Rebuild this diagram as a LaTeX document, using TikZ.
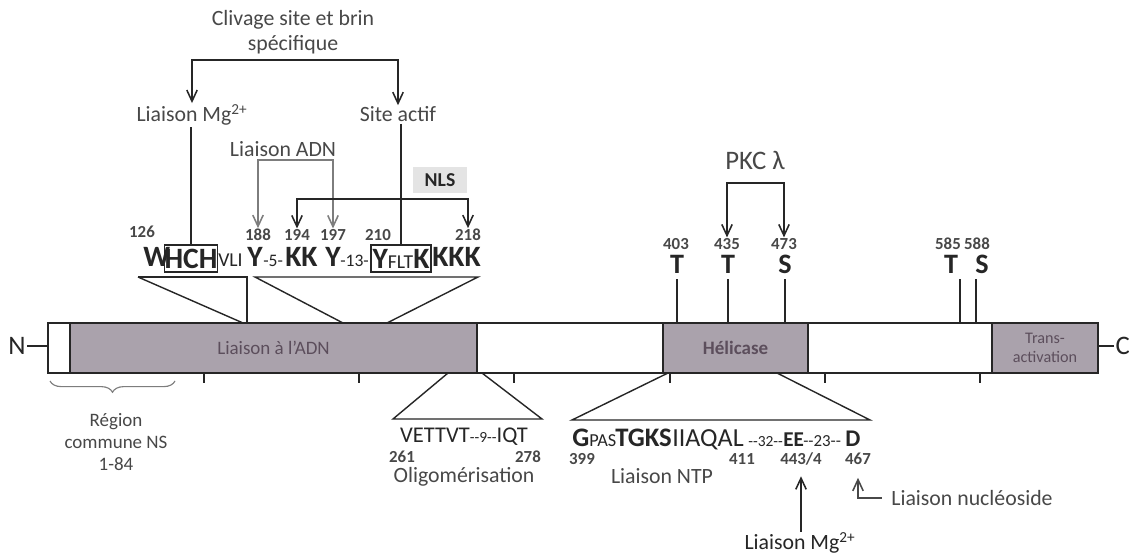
\documentclass[tikz,border=0pt]{standalone}
\usepackage{fontspec}
\setmainfont{Carlito}
\usetikzlibrary{arrows.meta,positioning,fit,decorations.pathreplacing}
\definecolor{inkDark}{RGB}{38,38,38}
\definecolor{inkGray}{RGB}{72,72,72}
\definecolor{wireGray}{RGB}{125,125,125}
\definecolor{domainGray}{RGB}{170,162,172}
\definecolor{domainText}{RGB}{92,78,92}
\definecolor{nlsFill}{RGB}{228,228,228}
\newcommand{\fsz}[1]{\fontsize{#1}{1.15\dimexpr #1pt\relax}\selectfont}
\newcommand{\dashpair}{\mbox{-}\mbox{-}}
\tikzset{
  label text/.style={font=\fsz{15.5},text=inkGray,inner sep=1pt},
  seq big/.style={font=\bfseries\fsz{21},text=inkDark,inner sep=0pt,anchor=base west},
  seq small/.style={font=\fsz{12.5},text=inkDark,inner sep=0pt,anchor=base west},
  seq box/.style={draw=inkDark,line width=1pt,inner sep=0pt,font=\bfseries\fsz{21},text=inkDark},
  pos num/.style={font=\bfseries\fsz{12},text=inkGray,inner sep=0.5pt},
  site letter/.style={font=\bfseries\fsz{20},text=inkDark,inner sep=0pt},
  bar box/.style={draw=inkDark,line width=2pt,fill=white,inner sep=0pt},
  domain box/.style={draw=inkDark,line width=1.4pt,fill=domainGray,inner sep=0pt},
  domain text/.style={font=\fsz{13.5},text=domainText,align=center},
  link arrow/.style={-{Straight Barb[length=2.8mm,width=2.6mm]},line width=1.1pt,draw=inkDark},
  link arrow gray/.style={-{Straight Barb[length=2.8mm,width=2.6mm]},line width=1.1pt,draw=wireGray},
  link line/.style={line width=1.1pt,draw=inkDark},
  zoom line/.style={line width=1pt,draw=inkDark}
}

\begin{document}
\begin{tikzpicture}[x=0.025cm,y=-0.025cm]
  \useasboundingbox[fill=white] (0,0) rectangle (1129,556);

  % protein bar and domains
  \node[bar box,fit={(48,323) (1098,373)}] (bar) {};
  \node[domain box,fit={(70,323) (477,373)}] (adnBox) {};
  \node[domain text] (adnLabel) at (adnBox.center) {Liaison à l'ADN};
  \node[domain box,fit={(663,323) (808,373)}] (heliBox) {};
  \node[domain text,font=\bfseries\fsz{13.5}] (heliLabel) at (heliBox.center) {Hélicase};
  \node[domain box,fit={(992,323) (1098,373)}] (transBox) {};
  \node[domain text,font=\fsz{11.5}] (transLabel) at (transBox.center) {Trans-\\activation};
  \node[font=\fsz{19},text=inkDark,inner sep=1pt] (nTerm) at (17,346) {N};
  \node[font=\fsz{19},text=inkDark,inner sep=1pt,anchor=west] (cTerm) at (1114,346) {C};
  \draw[link line] (nTerm.east) -- (nTerm.east -| bar.west);
  \draw[link line] (cTerm.west) -- (cTerm.west -| bar.east);
  \foreach \x in {204,359,514,670,825,980}
    \draw[link line] (\x,373) -- (\x,383);

  % top labels
  \node[label text,align=center] (clivage) at (293,32) {Clivage site et brin\\spécifique};
  \coordinate (clivSplit) at (296,60);
  \node[label text,anchor=base] (mgTop) at (192,122) {Liaison Mg\textsuperscript{2+}};
  \node[label text,anchor=base] (actif) at (398,122) {Site actif};
  \draw[link arrow] (clivSplit) -| (mgTop.north);
  \draw[link arrow] (clivSplit) -| (actif.north);
  \node[label text,anchor=base] (adnLink) at (283,157) {Liaison ADN};
  \node[fill=nlsFill,font=\bfseries\fsz{14},text=inkDark,minimum width=1.35cm,minimum height=0.65cm,inner sep=0pt] (nls) at (440,180) {NLS};

  % sequence 126-218
  \node[pos num] (n126) at (142,232) {126};
  \node[pos num] (n188) at (258,235) {188};
  \node[pos num] (n194) at (297,235) {194};
  \node[pos num] (n197) at (333,235) {197};
  \node[pos num] (n210) at (378,235) {210};
  \node[pos num] (n218) at (468,235) {218};
  \node[seq big] (wRes) at (143,267) {W};
  \node[seq box,minimum width=1.3cm,minimum height=0.68cm] (hchBox) at (191,258.5) {HCH};
  \node[seq small,font=\fsz{14}] (vliRes) at (218,267) {VLI};
  \node[seq big] (y188) at (247,267) {Y};
  \node[seq small] (gap5) at (263,267) {-5-};
  \node[seq big] (kk194) at (285,267) {KK};
  \node[seq big] (y197) at (325,267) {Y};
  \node[seq small] (gap13) at (340,267) {-13-};
  \node[seq box,minimum width=1.5cm,minimum height=0.68cm] (yfltBox) at (401,258.5) {Y{\mdseries\fsz{14}FLT}K};
  \node[seq big] (kkk) at (432,267) {KKK};

  \draw[link line] (mgTop.south -| hchBox.north) -- (hchBox.north);
  \draw[link line] (actif.south -| yfltBox.north) -- (yfltBox.north);
  \coordinate (adnSplit) at (296,160);
  \draw[link arrow gray] (adnSplit) -| (n188.north);
  \draw[link arrow gray] (adnSplit) -| (n197.north);
  \coordinate (nlsSplit) at (400,199);
  \draw[link arrow] (nlsSplit) -| (n194.north);
  \draw[link arrow] (nlsSplit) -| (n218.north);

  % zoom lines to the bar
  \draw[zoom line] (138,277) -- (247,277) -- (247,323);
  \draw[zoom line] (138,277) -- (243,323);
  \draw[zoom line] (343,323) -- (255,277) -- (478,277) -- (387,323);

  % phosphorylation sites
  \node[label text,font=\fsz{19}] (pkc) at (755,160) {PKC λ};
  \coordinate (pkcSplit) at (757,183);
  \node[pos num] (n403) at (676,244) {403};
  \node[pos num] (n435) at (727,244) {435};
  \node[pos num] (n473) at (784,244) {473};
  \node[pos num] (n585) at (948,244) {585};
  \node[pos num] (n588) at (977,244) {588};
  \node[site letter] (t403) at (677,264) {T};
  \node[site letter] (t435) at (728,264) {T};
  \node[site letter] (s473) at (785,264) {S};
  \node[site letter] (t585) at (951,264) {T};
  \node[site letter] (s588) at (982,264) {S};
  \draw[link arrow] (pkcSplit) -| (n435.north);
  \draw[link arrow] (pkcSplit) -| (n473.north);
  \draw[link line,shorten <=4pt] (t403.south) -- (t403.south |- bar.north);
  \draw[link line,shorten <=4pt] (t435.south) -- (t435.south |- bar.north);
  \draw[link line,shorten <=4pt] (s473.south) -- (s473.south |- bar.north);
  \draw[link line,shorten <=4pt] ([xshift=2.3mm]t585.south) -- ([xshift=2.3mm]t585.south |- bar.north);
  \draw[link line,shorten <=4pt] ([xshift=-1.5mm]s588.south) -- ([xshift=-1.5mm]s588.south |- bar.north);

  % common region
  \draw[wireGray,line width=0.8pt,decorate,decoration={brace,mirror,amplitude=8pt}] (50,381) -- (175,381);
  \node[label text,font=\fsz{13.5},align=center] (region) at (116,442) {Région\\commune NS\\1-84};

  % oligomerisation
  \draw[zoom line] (448,373) -- (393,419) -- (542,419) -- (482,373);
  \node[label text,text=inkDark,inner sep=0pt] (oligoSeq) at (464,437) {{\fsz{16}VETTVT}{\fsz{11}\dashpair9\dashpair}{\fsz{16}IQT}};
  \node[pos num] (n261) at (402,457) {261};
  \node[pos num] (n278) at (528,457) {278};
  \node[label text] (oligo) at (464,477) {Oligomérisation};

  % NTP binding
  \draw[zoom line] (668,373) -- (572,420) -- (870,420) -- (777,373);
  \node[seq big,font=\bfseries\fsz{19}] (gRes) at (572,446) {G};
  \node[seq small,font=\fsz{13}] (pasRes) at (589,446) {PAS};
  \node[seq big,font=\bfseries\fsz{19}] (tgksRes) at (615,446) {TGKS};
  \node[seq small,font=\fsz{18.5}] (iiaqalRes) at (672,446) {IIAQAL};
  \node[seq small,font=\fsz{11}] (gap32) at (748,446) {\dashpair32\dashpair};
  \node[seq big,font=\bfseries\fsz{15}] (eeRes) at (783,446) {EE};
  \node[seq small,font=\fsz{12}] (gap23) at (803,446) {\dashpair23\dashpair};
  \node[seq big,font=\bfseries\fsz{17}] (dRes) at (845,446) {D};
  \node[pos num] (n399) at (582,459) {399};
  \node[pos num] (n411) at (742,459) {411};
  \node[pos num] (n443) at (801,459) {443/4};
  \node[pos num] (n467) at (858,459) {467};
  \node[label text] (ntp) at (662,476) {Liaison NTP};
  \node[label text,text=inkDark] (mgBottom) at (800,543) {Liaison Mg\textsuperscript{2+}};
  \node[label text] (nucleo) at (972,498) {Liaison nucléoside};
  \draw[link arrow,shorten >=2.5mm] (mgBottom.north) -- (mgBottom.north -| n443.south) -- (n443.south);
  \draw[link arrow,draw=inkGray,shorten >=3mm,shorten <=2mm] (nucleo.west) -| (n467.south);
\end{tikzpicture}
\end{document}
